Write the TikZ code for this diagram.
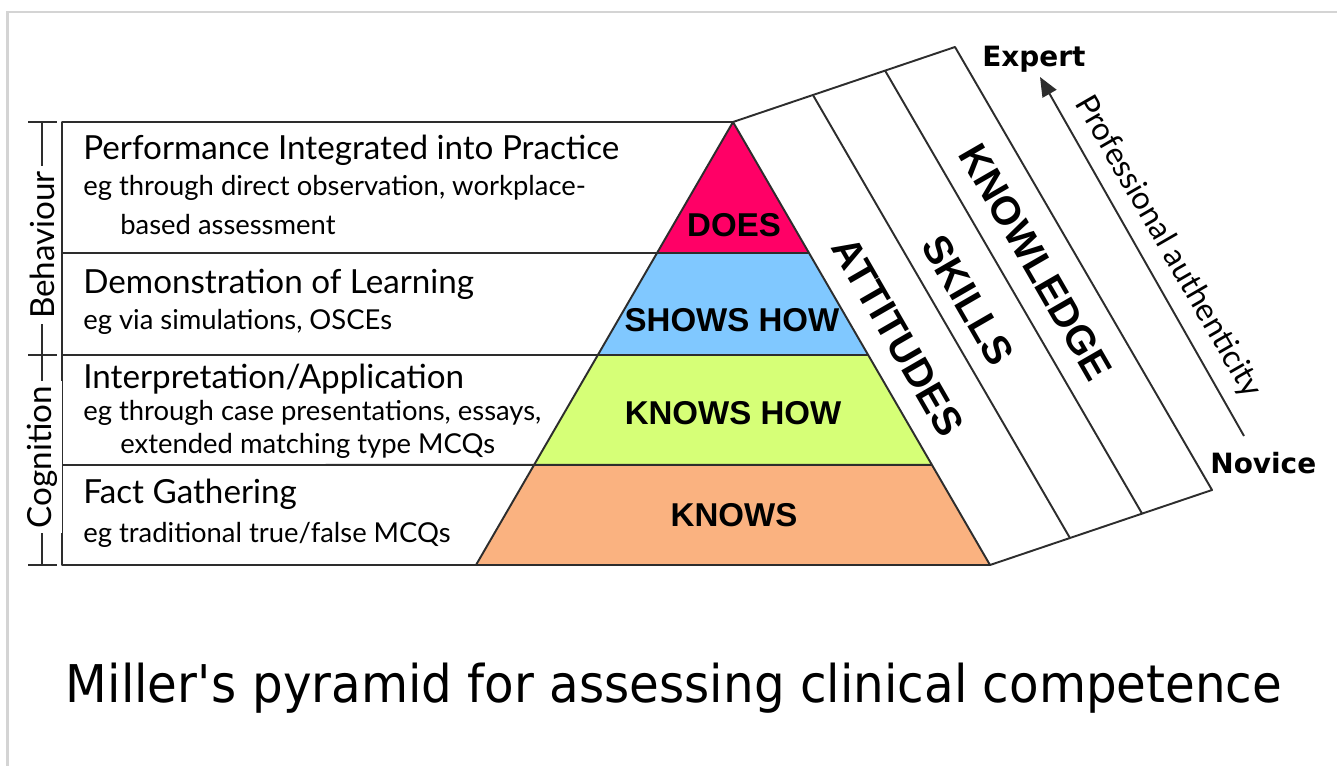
\documentclass[tikz,border=0pt]{standalone}
\usepackage{fontspec}
\setmainfont{Lato}
\newfontfamily\labelfont{Liberation Sans}
\newfontfamily\levelfont{DejaVu Sans}
\newfontfamily\captionfont[FakeStretch=0.93]{DejaVu Sans}
\usepackage{tikz}
\usetikzlibrary{calc,positioning,arrows.meta}

\definecolor{doescol}{RGB}{255,0,102}
\definecolor{showscol}{RGB}{128,200,255}
\definecolor{knowshowcol}{RGB}{214,255,119}
\definecolor{knowscol}{RGB}{250,178,128}
\definecolor{linecol}{RGB}{45,45,45}
\definecolor{framecol}{RGB}{212,212,212}

\tikzset{
  outline/.style={draw=linecol, line width=1.1pt, line join=round},
  heading/.style={anchor=base west, inner sep=0pt, font=\fontsize{18.9}{21}\selectfont},
  subline/.style={anchor=base west, inner sep=0pt, font=\fontsize{15.6}{18}\selectfont},
  sidelabel/.style={rotate=90, fill=white, inner sep=3pt, font=\fontsize{18.9}{21}\selectfont},
  level/.style={font=\labelfont\bfseries\fontsize{18.8}{20}\selectfont},
  band/.style={rotate=-60, font=\labelfont\bfseries\fontsize{22.8}{24}\selectfont},
  endlabel/.style={anchor=base west, inner sep=0pt, font=\levelfont\bfseries\fontsize{15.9}{18}\selectfont},
}

\begin{document}
\begin{tikzpicture}[x=0.02cm, y=-0.02cm]
    \useasboundingbox (0,0) rectangle (1337,766);

    % Frame
    \draw[framecol, line width=1.2pt] (7.5,766) -- (7.5,12) -- (1337,12);

    % Pyramid corners and table rows
    \coordinate (apex) at (733,122);
    \coordinate (bl) at (476,565);
    \coordinate (br) at (990,565);
    \foreach \t/\n in {0.2957/1,0.526/2,0.774/3} {
        \coordinate (l\n) at ($(apex)!\t!(bl)$);
        \coordinate (r\n) at ($(apex)!\t!(br)$);
    }
    \coordinate (row0) at (62,122);
    \coordinate (row1) at (62,253);
    \coordinate (row2) at (62,355);
    \coordinate (row3) at (62,465);
    \coordinate (row4) at (62,565);

    % Layers
    \fill[doescol] (apex) -- (r1) -- (l1) -- cycle;
    \fill[showscol] (l1) -- (r1) -- (r2) -- (l2) -- cycle;
    \fill[knowshowcol] (l2) -- (r2) -- (r3) -- (l3) -- cycle;
    \fill[knowscol] (l3) -- (r3) -- (br) -- (bl) -- cycle;

    % Table and pyramid outline
    \draw[outline] (row0) -- (apex) -- (br) -- (row4) -- cycle;
    \draw[outline] (apex) -- (bl);
    \foreach \n in {1,2,3}
        \draw[outline] (row\n) -- (r\n);

    % Strip
    \coordinate (stl) at ($(apex)+(222,-75)$);
    \coordinate (sbr) at ($(br)+(222,-75)$);
    \draw[outline] (apex) -- (stl) -- (sbr) -- (br);
    \foreach \f in {0.36,0.685}
        \draw[outline] ($(apex)!\f!(stl)$) -- ($(br)!\f!(sbr)$);

    % Authenticity arrow
    \coordinate (lowend) at (1244,436);
    \coordinate (highend) at (1040,77);
    \draw[linecol, line width=1.1pt, -{Triangle[length=11pt,width=9pt]}] (lowend) -- (highend);
    \node[endlabel] (expert) at (982,67) {Expert};
    \node[endlabel] (novice) at (1210,473) {Novice};
    \node[rotate=-60, font=\fontsize{18}{20}\selectfont] (authentic) at (1168,247) {Professional authenticity};

    % Behaviour / Cognition bracket
    \coordinate (bracktop) at (42,122);
    \coordinate (brackbot) at (42,565);
    \draw[outline] (bracktop) -- (brackbot);
    \foreach \y in {122,355,565}
        \draw[outline] (28,\y) -- (57,\y);
    \node[sidelabel] (behav) at (42,245) {Behaviour};
    \node[sidelabel] (cogn) at (42,457) {Cognition};

    % Row texts
    \node[heading] (perf) at (83,160) {Performance Integrated into Practice};
    \node[subline] (perfeg) at (83,196) {eg through direct observation, workplace-};
    \node[subline] (perfeg2) at (120,235) {based assessment};
    \node[heading] (demo) at (83,294) {Demonstration of Learning};
    \node[subline] (demoeg) at (83,330) {eg via simulations, OSCEs};
    \node[heading] (interp) at (83,388) {Interpretation/Application};
    \node[subline] (interpeg) at (83,420) {eg through case presentations, essays,};
    \node[subline] (interpeg2) at (120,453) {extended matching type MCQs};
    \node[heading] (fact) at (83,503) {Fact Gathering};
    \node[subline] (facteg) at (83,542) {eg traditional true/false MCQs};

    % Pyramid levels
    \node[level] (does) at (734,225) {DOES};
    \node[level] (shows) at (732,320) {SHOWS HOW};
    \node[level] (knowshow) at (733,413) {KNOWS HOW};
    \node[level] (knows) at (734,515) {KNOWS};

    % Strip labels
    \node[band] (attitudes) at (898,337) {ATTITUDES};
    \node[band] (skills) at (968,300) {SKILLS};
    \node[band] (knowledge) at (1036,262) {KNOWLEDGE};

    % Caption
    \node[anchor=base, inner sep=0pt, font=\captionfont\fontsize{29.6}{32}\selectfont] (caption) at (674,702) {Miller\textquotesingle s pyramid for assessing clinical competence};
\end{tikzpicture}
\end{document}
